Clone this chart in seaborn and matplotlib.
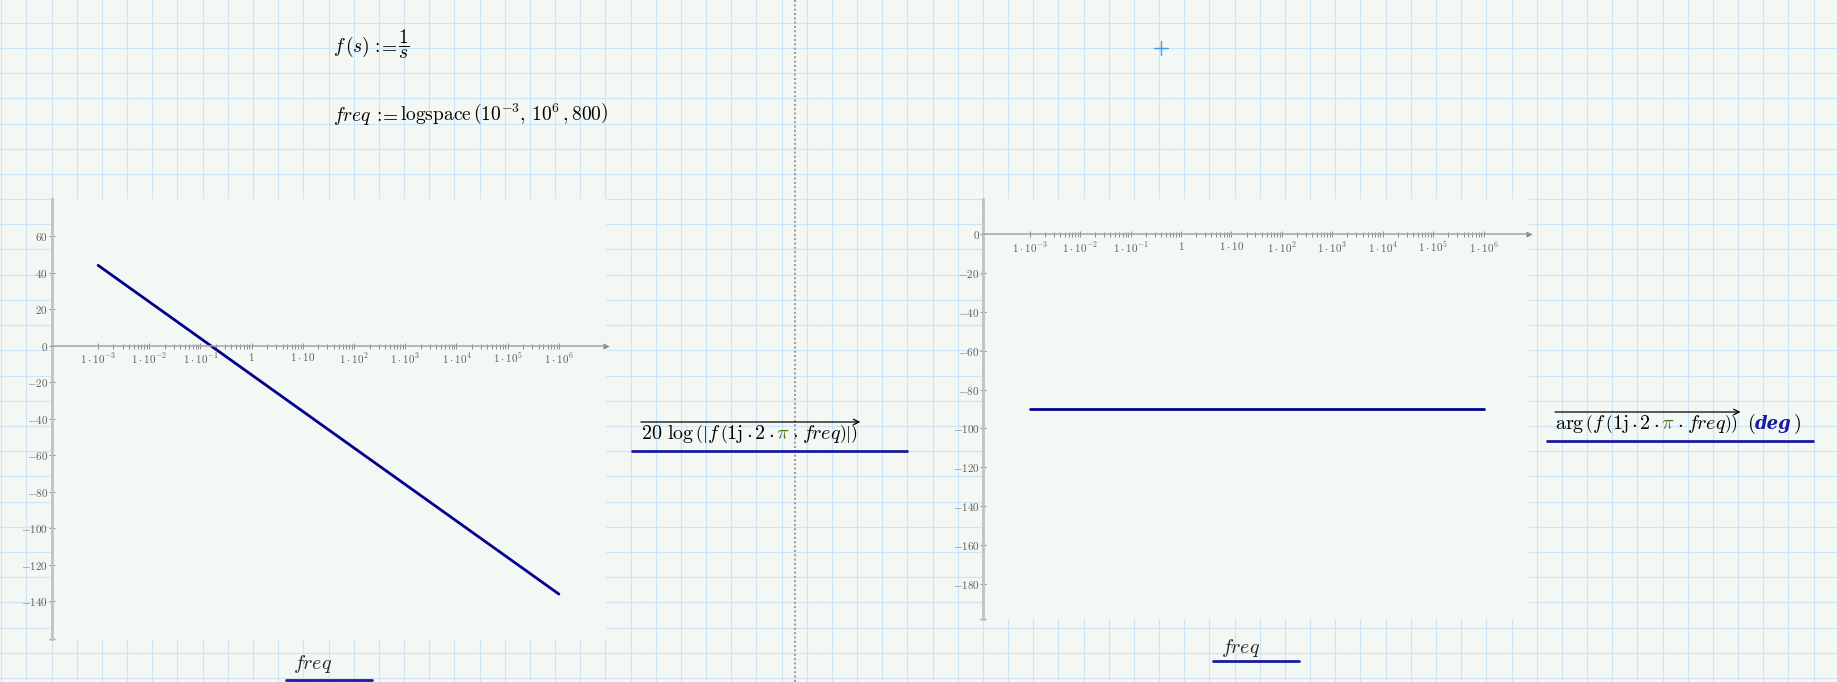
import numpy as np
import pandas as pd
import matplotlib
matplotlib.use("Agg")
import matplotlib.pyplot as plt
import seaborn as sns
from matplotlib.ticker import FixedLocator, FixedFormatter, NullFormatter

freq = [1e-3, 1e-2, 1e-1, 1e0, 1e1, 1e2, 1e3, 1e4, 1e5, 1e6]
mag_db = [44, 24, 4, -16, -36, -56, -76, -96, -116, -136]
phase_deg = [-90, -90, -90, -90, -90, -90, -90, -90, -90, -90]

decade_labels = [r'$\mathbf{1\cdot10^{-3}}$', r'$\mathbf{1\cdot10^{-2}}$', r'$\mathbf{1\cdot10^{-1}}$',
                 r'$\mathbf{1}$', r'$\mathbf{1\cdot10}$', r'$\mathbf{1\cdot10^{2}}$',
                 r'$\mathbf{1\cdot10^{3}}$', r'$\mathbf{1\cdot10^{4}}$', r'$\mathbf{1\cdot10^{5}}$',
                 r'$\mathbf{1\cdot10^{6}}$']
mag_yticks = [60, 40, 20, 0, -20, -40, -60, -80, -100, -120, -140]
phase_yticks = [0, -20, -40, -60, -80, -100, -120, -140, -160, -180]

W, H = 1837, 682
page = '#f4f8f5'
gridc = '#cde4f7'
ink = '#5e5e5e'
navy = '#00008b'
trace = '#1a1a9c'
green = '#4d7a1f'

sns.set_style("white")
plt.rcParams['mathtext.fontset'] = 'cm'
plt.rcParams['font.family'] = ['DejaVu Serif']

fig = plt.figure(figsize=(W / 100, H / 100), dpi=100, facecolor=page)

# worksheet background in pixel coordinates (y down)
bg = fig.add_axes([0, 0, 1, 1], zorder=0)
bg.set_xlim(0, W)
bg.set_ylim(H, 0)
bg.axis('off')
for x in np.arange(1.3, W, 25.17):
    bg.axvline(x, color=gridc, lw=0.8)
for y in np.arange(22.7, H, 25.2):
    bg.axhline(y, color=gridc, lw=0.8)
# page break
bg.plot([795, 795], [0, H], color='#9c9c9c', lw=1.45, ls=(0, (1.0, 1.15)))
# cursor
bg.plot([1153.7, 1167.7], [48.3, 48.3], color='#3d9bf0', lw=1)
bg.plot([1160.7, 1160.7], [41.3, 55.3], color='#3d9bf0', lw=1)


def px_rect(x0, y0, x1, y1):
    return [x0 / W, 1 - y1 / H, (x1 - x0) / W, (y1 - y0) / H]


def mathcad_axes(ax, xlim, ylim, yticks):
    ax.set_facecolor(page)
    ax.set_xscale('log')
    ax.set_xlim(*xlim)
    ax.set_ylim(*ylim)
    ax.set_xlabel('')
    ax.set_ylabel('')
    for s in ['top', 'right']:
        ax.spines[s].set_visible(False)
    ax.spines['bottom'].set_position(('data', 0))
    ax.spines['bottom'].set_color('#a4a4a4')
    ax.spines['bottom'].set_linewidth(1.1)
    ax.spines['left'].set_color('#bcc3ca')
    ax.spines['left'].set_linewidth(2)
    ax.xaxis.set_major_locator(FixedLocator(freq))
    ax.xaxis.set_major_formatter(FixedFormatter(decade_labels))
    ax.xaxis.set_minor_locator(FixedLocator([m * d for d in freq[:-1] for m in range(2, 10)]))
    ax.xaxis.set_minor_formatter(NullFormatter())
    ax.tick_params(axis='x', which='both', bottom=True, direction='inout', color='#8c8c8c',
                   width=0.7, labelsize=8, labelcolor=ink, pad=1.5)
    ax.tick_params(axis='x', which='major', length=5)
    ax.tick_params(axis='x', which='minor', length=3.6)
    ax.yaxis.set_major_locator(FixedLocator(yticks))
    ax.yaxis.set_major_formatter(FixedFormatter([r'$\mathbf{%d}$' % v for v in yticks]))
    ax.tick_params(axis='y', left=True, direction='inout', length=4.6, width=0.7, color='#8c8c8c',
                   labelsize=8, labelcolor=ink, pad=0.5)
    ax.plot(1, 0, '>', transform=ax.get_yaxis_transform(), clip_on=False,
            color='#7c7c7c', ms=5, mec='none')
    ax.plot(0, 0.992, '^', transform=ax.get_xaxis_transform(), clip_on=False,
            color='#7c7c7c', ms=5, mec='none')
    ax.plot(0, 0, '_', transform=ax.transAxes, clip_on=False, color='#a0a0a0', ms=5, mew=1)


mag_df = pd.DataFrame({'freq': freq, 'mag': mag_db})
phase_df = pd.DataFrame({'freq': freq, 'phase': phase_deg})

ax1 = fig.add_axes(px_rect(52, 199, 606, 639), zorder=2)
ax1.set_xscale('log')
sns.lineplot(data=mag_df, x='freq', y='mag', ax=ax1, color=navy, lw=2)
mathcad_axes(ax1, (10 ** -3.9, 10 ** 6.92), (-160.6, 80.3), mag_yticks)

ax2 = fig.add_axes(px_rect(983.5, 199, 1529, 619), zorder=2)
ax2.set_xscale('log')
sns.lineplot(data=phase_df, x='freq', y='phase', ax=ax2, color=navy, lw=2)
mathcad_axes(ax2, (10 ** -3.916, 10 ** 6.9), (-198.2, 18.2), phase_yticks)

fig.canvas.draw()
rend = fig.canvas.get_renderer()


def rich_text(x, y, pieces, size=14.5):
    # pieces are laid left to right; 'gap' is the extra space before a piece
    left = x
    top = y
    for s, c, kw in pieces:
        kw = dict(kw)
        fs = kw.pop('fontsize', size)
        x += kw.pop('gap', 0)
        t = bg.text(x, y, s, color=c, fontsize=fs, va='baseline', ha='left', **kw)
        bb = t.get_window_extent(rend)
        x += bb.width
        top = min(top, H - bb.y1)
    return left, x, top


def piece(s, c='black', **kw):
    return (s, c, kw)


def dot():
    return piece(r'$\cdot$', gap=2.5)


# definitions
rich_text(333, 52, [piece(r'$f\,(s)$'), piece(r'$:$', gap=1.5), piece(r'$=$', gap=-2.5),
                    piece(r'$\dfrac{1}{s}$', gap=1)], size=14)
rich_text(333, 121, [piece(r'$freq$'), piece(r'$:$', gap=1.5), piece(r'$=$', gap=-2.5),
                     piece(r'$\mathrm{logspace}\,\left(10^{-3},\,10^{6}\,,800\right)$', gap=1)], size=14)

# left trace label
l0, l1, lt = rich_text(641, 439, [piece(r'$20\ \mathrm{log}\,\left(\left|f\,\left(1\mathrm{j}\right.\right.\right.$'),
                                  dot(), piece(r'$2$', gap=2.5), dot(), piece(r'$\pi$', green, gap=2.5),
                                  dot(), piece(r'$\left.\left.\left.freq\right)\right|\right)$', gap=4)])
bg.annotate('', xy=(l1 + 2, lt - 1), xytext=(l0, lt - 1),
            arrowprops=dict(arrowstyle='->', lw=0.9, color='black', shrinkA=0, shrinkB=0))
bg.plot([632, 907], [451, 451], color=trace, lw=2)

# right trace label
r0, r1, rt = rich_text(1555, 429, [piece(r'$\mathrm{arg}\,\left(f\,\left(1\mathrm{j}\right.\right.$'),
                                   dot(), piece(r'$2$', gap=2.5), dot(), piece(r'$\pi$', green, gap=2.5),
                                   dot(), piece(r'$\left.\left.freq\right)\right)$', gap=4)])
bg.annotate('', xy=(r1 + 2, rt - 1), xytext=(r0, rt - 1),
            arrowprops=dict(arrowstyle='->', lw=0.9, color='black', shrinkA=0, shrinkB=0))
rich_text(r1 + 8, 429, [piece(r'$($'), piece('deg', trace, family='DejaVu Serif',
                                                 weight='bold', style='italic', fontsize=13),
                        piece(r'$)$', gap=1)])
bg.plot([1547, 1813], [441, 441], color=trace, lw=2)

# x labels
bg.text(293, 669, r'$freq$', fontsize=14.5, va='baseline')
bg.plot([286, 372], [680, 680], color=trace, lw=2)
bg.text(1221, 653, r'$freq$', fontsize=14.5, va='baseline')
bg.plot([1213, 1299], [661, 661], color=trace, lw=2)

fig.savefig('out.png', dpi=100, facecolor=page)
